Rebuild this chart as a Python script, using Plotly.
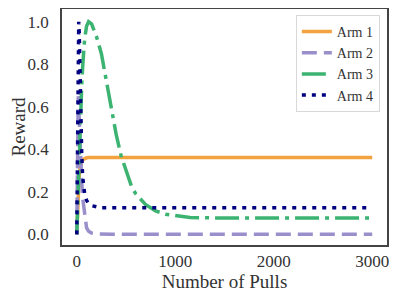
import plotly.graph_objects as go

pulls = [0, 5, 10, 15, 20, 25, 30, 40, 50, 60, 80, 100, 120, 150, 200, 250, 300,
         350, 400, 450, 500, 560, 600, 700, 750, 800, 900, 1000, 1150, 1500,
         2000, 2500, 3000]

arm1 = [0.0, 0.08, 0.15, 0.21, 0.25, 0.28, 0.30, 0.33, 0.345, 0.352, 0.358, 0.36,
        0.361, 0.362, 0.362, 0.362, 0.362, 0.362, 0.362, 0.362, 0.362, 0.362,
        0.362, 0.362, 0.362, 0.362, 0.362, 0.362, 0.362, 0.362, 0.362, 0.362, 0.362]

arm2 = [0.0, 0.30, 0.55, 0.65, 0.60, 0.52, 0.45, 0.33, 0.25, 0.17, 0.08, 0.03,
        0.015, 0.006, 0.002, 0.0, 0.0, 0.0, 0.0, 0.0, 0.0, 0.0, 0.0, 0.0, 0.0,
        0.0, 0.0, 0.0, 0.0, 0.0, 0.0, 0.0, 0.0]

arm3 = [0.0, 0.08, 0.17, 0.25, 0.33, 0.40, 0.47, 0.60, 0.70, 0.79, 0.92, 0.98,
        1.0, 0.99, 0.93, 0.85, 0.72, 0.60, 0.47, 0.37, 0.30, 0.22, 0.19, 0.14,
        0.125, 0.11, 0.095, 0.087, 0.079, 0.077, 0.077, 0.077, 0.077]

arm4 = [0.0, 0.30, 0.60, 0.85, 1.0, 0.95, 0.80, 0.55, 0.38, 0.27, 0.19, 0.16,
        0.145, 0.135, 0.128, 0.125, 0.125, 0.125, 0.125, 0.125, 0.125, 0.125,
        0.125, 0.125, 0.125, 0.125, 0.125, 0.125, 0.125, 0.125, 0.125, 0.125, 0.125]

names = ["Arm 1", "Arm 2", "Arm 3", "Arm 4"]
series = [arm1, arm2, arm3, arm4]
colors = ["#f2a23f", "#9a8fcb", "#3cb371", "#000080"]
dashes = ["solid", "15px,7px", "24px,6px,4px,6px", "4px,6px"]

x_ticks = [0, 1000, 2000, 3000]
y_ticks = [0.0, 0.2, 0.4, 0.6, 0.8, 1.0]

font = "Liberation Serif"

fig = go.Figure()
for name, ys, c, d in zip(names, series, colors, dashes):
    fig.add_trace(go.Scatter(x=pulls, y=ys, mode="lines", name=name,
                             line=dict(color=c, width=3.5, dash=d)))

axis_common = dict(showline=True, mirror=True, linecolor="#444444", linewidth=1.5,
                   showgrid=False, zeroline=False, ticks="", automargin=False,
                   tickfont=dict(family=font, size=17, color="#333333"))

# page body adds an 8px offset, so the figure is 8px smaller on each axis
fig.update_layout(
    width=390, height=292,
    margin=dict(l=54, r=11, t=1, b=55),
    plot_bgcolor="white", paper_bgcolor="white",
    font=dict(family=font, color="#333333"),
    xaxis=dict(range=[-150, 3150], tickvals=x_ticks,
               ticktext=[str(v) for v in x_ticks],
               title=dict(text="Number of Pulls", font=dict(family=font, size=19),
                          standoff=1),
               ticklabelstandoff=0, **axis_common),
    yaxis=dict(range=[-0.05, 1.06], tickvals=y_ticks,
               ticktext=[f"{v:.1f}" for v in y_ticks],
               title=dict(text="Reward", font=dict(family=font, size=19),
                          standoff=4),
               ticklabelstandoff=8, **axis_common),
    legend=dict(x=0.978, y=0.975, xanchor="right", yanchor="top",
                bgcolor="white", bordercolor="#d8d8d8", borderwidth=1,
                font=dict(family=font, size=14, color="#333333"),
                tracegroupgap=0, itemwidth=30),
    showlegend=True,
)

fig.write_html("out.html")
